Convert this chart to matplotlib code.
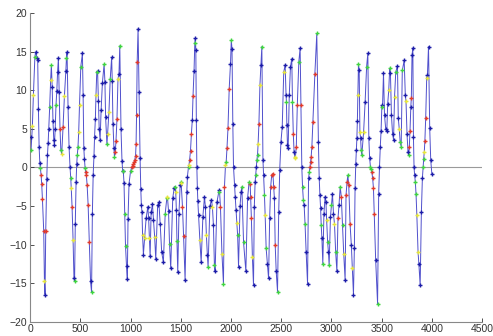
import numpy as np
import matplotlib
matplotlib.use('Agg')
import matplotlib.pyplot as plt

plt.rcParams['font.family'] = ['Liberation Sans', 'DejaVu Sans']

# sample positions, values and marker colour codes (one code per sample)
x_vals = [
    5, 10, 23, 33, 48, 56, 70, 76,
    83, 90, 97, 103, 110, 116, 123, 136, 143, 149,
    156, 166, 173, 180, 186, 195, 205,
    212, 220, 228, 236, 242,
    250, 258, 266, 274, 282,
    290, 298, 306, 315,
    328, 342, 356, 362, 368,
    378, 388, 398, 405, 410, 418, 428, 437, 443,
    450, 458, 464, 470, 477, 484, 492, 505, 521,
    528, 535, 541, 548, 554, 560, 568, 578, 590, 602, 612,
    620, 628, 636, 642, 650, 656, 664, 672,
    680, 688, 697,
    707, 720, 737,
    745, 752, 765,
    772, 785, 798, 812,
    818, 825, 835, 840, 848,
    855, 865, 875, 885, 893,
    905, 915, 922, 928, 935, 942, 950, 960, 968,
    975, 985, 1000, 1012, 1020, 1028, 1035, 1042, 1050, 1055, 1060, 1066, 1075,
    1085, 1095, 1102, 1108, 1114, 1120, 1128,
    1140, 1155, 1172,
    1180, 1188, 1195,
    1205, 1218,
    1228, 1240, 1251,
    1270, 1282,
    1295, 1310, 1327,
    1345, 1361, 1367,
    1378, 1388, 1400,
    1420, 1435, 1444,
    1450, 1456, 1462, 1470,
    1482, 1494, 1500, 1504,
    1517, 1528, 1543,
    1560, 1566, 1577, 1582, 1588, 1597, 1606, 1615, 1622, 1632, 1640, 1645,
    1650, 1655, 1660, 1665, 1670, 1677, 1690, 1703,
    1720, 1736,
    1745, 1755, 1765, 1772,
    1790, 1805,
    1815, 1825, 1835, 1842,
    1860, 1878, 1885,
    1895, 1910, 1925,
    1935, 1945, 1952, 1960, 1970, 1982, 1995, 2003, 2010,
    2018, 2025, 2035, 2042, 2050, 2058, 2066, 2075,
    2090, 2100, 2108,
    2125, 2148,
    2165, 2180, 2191,
    2195, 2203, 2213, 2224,
    2232, 2240, 2246, 2252, 2258, 2264, 2270, 2278, 2288, 2298, 2307,
    2318, 2325, 2333, 2340, 2350, 2362, 2374,
    2385, 2395, 2405, 2417,
    2425, 2432, 2440, 2450, 2463,
    2475, 2485, 2497, 2510, 2525, 2539,
    2548, 2552, 2556, 2562, 2569,
    2580, 2592, 2605,
    2612, 2620, 2628, 2635, 2640,
    2650, 2660, 2675, 2688,
    2696, 2705, 2712, 2720, 2728, 2737, 2748, 2762,
    2772, 2780, 2786, 2792, 2798, 2805, 2815, 2835, 2854,
    2870, 2878, 2885, 2892, 2898, 2905, 2914,
    2925, 2937,
    2945, 2952, 2962, 2970, 2977,
    2990, 3000, 3010,
    3020, 3030, 3042, 3054,
    3065, 3075, 3087,
    3098, 3110, 3122, 3136,
    3145, 3155, 3163,
    3172, 3185, 3198, 3208, 3219,
    3228, 3235, 3242, 3248, 3253, 3258, 3263, 3269, 3276,
    3283, 3290, 3296, 3302,
    3320, 3335, 3350, 3362,
    3372, 3380, 3388, 3395, 3402, 3410, 3418, 3426, 3440, 3459,
    3470, 3478, 3486, 3494, 3502, 3508, 3518,
    3528, 3540, 3551,
    3560, 3570, 3580, 3587,
    3597, 3608, 3618,
    3628, 3640, 3657,
    3665, 3675, 3684, 3694,
    3705, 3724,
    3735, 3742, 3752, 3762, 3768,
    3775, 3782, 3790, 3795, 3802, 3810,
    3816, 3822, 3828, 3835, 3842, 3850, 3862, 3870, 3883,
    3895, 3905, 3912, 3918, 3924, 3930, 3938, 3948, 3955, 3966,
    3978, 3988, 3999,
]

y_vals = [
    3.9, 2.3, 5.4, 9.4, 14.4, 15.0, 14.2, 13.9,
    7.6, 2.7, 0.6, -0.1, -1.0, -2.2, -4.1, -8.3, -14.8, -16.5,
    -8.2, -1.5, 1.6, 3.2, 5.0, 7.8, 11.4,
    13.3, 10.5, 6.0, 3.6, 2.9,
    5.0, 8.1, 9.9, 12.4, 14.2,
    9.8, 5.0, 2.3, 1.8,
    5.2, 9.3, 12.5, 14.2, 15.0,
    7.8, 2.7, 0.0, -1.4, -2.7, -5.1, -9.4, -14.4, -14.8,
    -7.3, -1.9, 0.4, 1.6, 2.7, 4.6, 8.1, 13.1, 14.8,
    9.4, 2.5, 1.1, -0.1, -0.6, -1.0, -2.3, -4.9, -9.7, -14.8, -16.2,
    -6.0, -1.0, 1.5, 4.0, 6.3, 9.4, 12.4, 12.5,
    8.6, 5.0, 3.6,
    7.4, 11.0, 13.4,
    11.1, 6.5, 3.0,
    4.4, 7.2, 11.5, 14.3,
    11.2, 5.7, 2.5, 1.4, 2.0,
    3.4, 6.3, 11.5, 12.2, 15.8,
    5.0, 0.8, -0.4, -0.5, -2.0, -6.0, -10.2, -12.8, -14.5,
    -6.7, -2.1, -0.5, 0.0, 0.2, 0.4, 0.7, 1.0, 1.5, 3.0, 6.8, 13.7, 18.0,
    9.8, 1.2, -2.8, -4.9, -5.8, -8.8, -11.3,
    -9.2, -6.6, -5.1,
    -6.6, -9.2, -11.5,
    -5.8, -4.8,
    -6.8, -9.0, -11.9,
    -4.9, -4.5,
    -7.3, -11.0, -12.3,
    -6.0, -4.0, -3.8,
    -5.6, -9.9, -13.1,
    -4.0, -2.6, -2.5,
    -3.2, -5.5, -9.5, -13.6,
    -6.0, -2.3, -1.9, -2.0,
    -5.1, -8.9, -14.6,
    -3.2, -1.2, 0.1, 0.3, 1.0, 2.2, 4.4, 6.2, 9.3, 12.5, 16.2, 16.8,
    15.2, 6.2, 0.1, -2.6, -4.4, -6.2, -9.4, -12.3,
    -6.4, -3.8,
    -5.1, -8.8, -11.4, -12.9,
    -5.0, -4.2,
    -5.1, -7.5, -12.7, -13.5,
    -4.5, -3.2, -2.9,
    -5.1, -11.2, -15.1,
    -2.5, 0.3, 0.7, 2.5, 5.1, 10.2, 13.5, 16.5, 15.4,
    5.7, 0.1, -2.3, -3.8, -5.5, -7.2, -8.8, -12.9,
    -5.0, -3.2, -2.5,
    -9.7, -13.5,
    -4.0, -1.9, -2.2,
    -3.8, -6.6, -11.6, -15.3,
    -5.1, -1.9, -1.0, 0.0, 1.0, 1.6, 3.1, 5.7, 10.7, 13.3, 15.7,
    1.0, -1.0, -3.6, -6.2, -10.5, -12.5, -14.4,
    -6.5, -2.5, -1.0, -0.8,
    -2.5, -4.0, -10.1, -13.5, -16.1,
    -5.8, -0.3, 3.3, 5.3, 12.4, 13.3,
    9.4, 8.5, 5.5, 2.9, 2.5,
    9.4, 13.1, 14.1,
    8.5, 4.4, 2.0, 1.4, 1.2,
    2.7, 8.1, 13.7, 15.5,
    8.1, 0.0, -2.5, -4.2, -4.9, -7.3, -11.0, -15.1,
    -1.4, -0.6, 0.1, 0.7, 1.4, 2.7, 5.9, 12.2, 17.4,
    3.3, -1.4, -3.6, -5.3, -7.5, -9.2, -12.5,
    -6.0, -3.8,
    -4.5, -6.8, -9.7, -11.0, -12.7,
    -6.4, -4.9, -3.4,
    -6.0, -7.3, -11.0, -13.5,
    -6.6, -4.9, -2.5,
    -3.8, -7.5, -11.2, -14.6,
    -3.6, -1.9, -1.0,
    -2.3, -7.3, -10.1, -13.1, -16.5,
    -10.5, -2.7, 0.5, 2.3, 3.8, 6.1, 9.4, 13.5, 12.6,
    4.6, 3.8, 2.3, 1.6,
    4.6, 8.5, 13.1, 14.8,
    3.8, 1.2, 0.1, -0.2, -0.6, -1.4, -2.7, -6.0, -12.0, -17.7,
    -3.4, 0.0, 2.7, 4.8, 8.1, 7.8, 12.3,
    6.8, 5.0, 4.8,
    8.3, 10.0, 12.9, 12.3,
    6.8, 4.4, 3.6,
    9.2, 12.4, 13.2,
    6.4, 5.0, 3.3, 2.7,
    12.6, 13.9,
    9.4, 8.6, 4.4, 2.0, 1.6,
    2.7, 4.8, 7.9, 9.0, 14.6, 15.5,
    4.0, 0.0, -1.0, -1.9, -3.5, -6.2, -11.0, -12.5, -15.3,
    -5.8, -1.4, 0.0, 1.1, 2.0, 3.5, 6.4, 11.6, 12.0, 15.7,
    5.1, 1.0, -0.8,
]

marker_codes = (
    "bgyygbbb"
    "bbbgrrrryb"
    "rbbbbgy"
    "gbbbb"
    "bgbbb"
    "brgy"
    "rybgb"
    "bbbgyryb" "g"
    "bbbggyygb"
    "bbbgrrrrrbg"
    "bbbbbygb"
    "bbb"
    "bbg"
    "bbg"
    "yygb"
    "bbbgr"
    "rrybg"
    "bbbgbggbb"
    "bbgrrrrrrrrrb"
    "bbbbbyb"
    "ybb"
    "byb"
    "bb"
    "byb"
    "bb"
    "bbb"
    "ggy"
    "bgb"
    "bbg"
    "ybgb"
    "bbgy"
    "rrb"
    "bbgyrrrbrbgb"
    "bbbbbbyb"
    "bb"
    "bybg"
    "bb"
    "ybgb"
    "bgb"
    "ryg"
    "rygrrrbgb"
    "bbbbbygb"
    "bbg"
    "gb"
    "bgr"
    "rryb"
    "bbgbggyrybg"
    "bbgygbb"
    "brrr"
    "rbrbg"
    "bbbbyb"
    "bgbbb"
    "bbb"
    "grbyy"
    "rrgb"
    "rbggbgbb"
    "bgrrrrrrg"
    "bbbbgbg"
    "bb"
    "bygbg"
    "bgb"
    "bygb"
    "rbg"
    "rgyb"
    "rrg"
    "rrbyb"
    "bbbbbbygb"
    "ybgg"
    "ybgb"
    "bbggrrrrbg"
    "bbbbbgb"
    "bbb"
    "bygb"
    "bbb"
    "ygb"
    "bygg"
    "gb"
    "bybbg"
    "rrbrbb"
    "bbbggyybb"
    "bbggyrrybb"
    "bbb"
)

marker_palette = {'b': '#1c1ca8', 'r': '#e23a2a', 'g': '#3fd43f', 'y': '#e6e63a'}

x = np.array(x_vals)
y = np.array(y_vals)
codes = np.array(list(marker_codes))

fig = plt.figure(figsize=(4.93, 3.36), dpi=100)
ax = fig.add_axes([0.061, 0.043, 0.917, 0.917])

ax.axhline(0, color='#9a9a9a', lw=0.8, zorder=1)
ax.plot(x, y, color='#5050cc', lw=0.7, zorder=2)
for code, col in marker_palette.items():
    m = codes == code
    ax.plot(x[m], y[m], ls='none', marker='+', ms=3.2, mew=1.0, color=col, zorder=3)

ax.set_xlim(0, 4500)
ax.set_ylim(-20, 20)
ax.set_xticks(np.arange(0, 4501, 500))
ax.set_yticks(np.arange(-20, 21, 5))
ax.tick_params(direction='in', length=3, width=0.6, labelsize=7.5,
               colors='#333333', pad=2)
for s in ['top', 'right']:
    ax.spines[s].set_visible(False)
for s in ['left', 'bottom']:
    ax.spines[s].set_color('#888888')
    ax.spines[s].set_linewidth(0.8)

fig.savefig('out.png', dpi=100)
